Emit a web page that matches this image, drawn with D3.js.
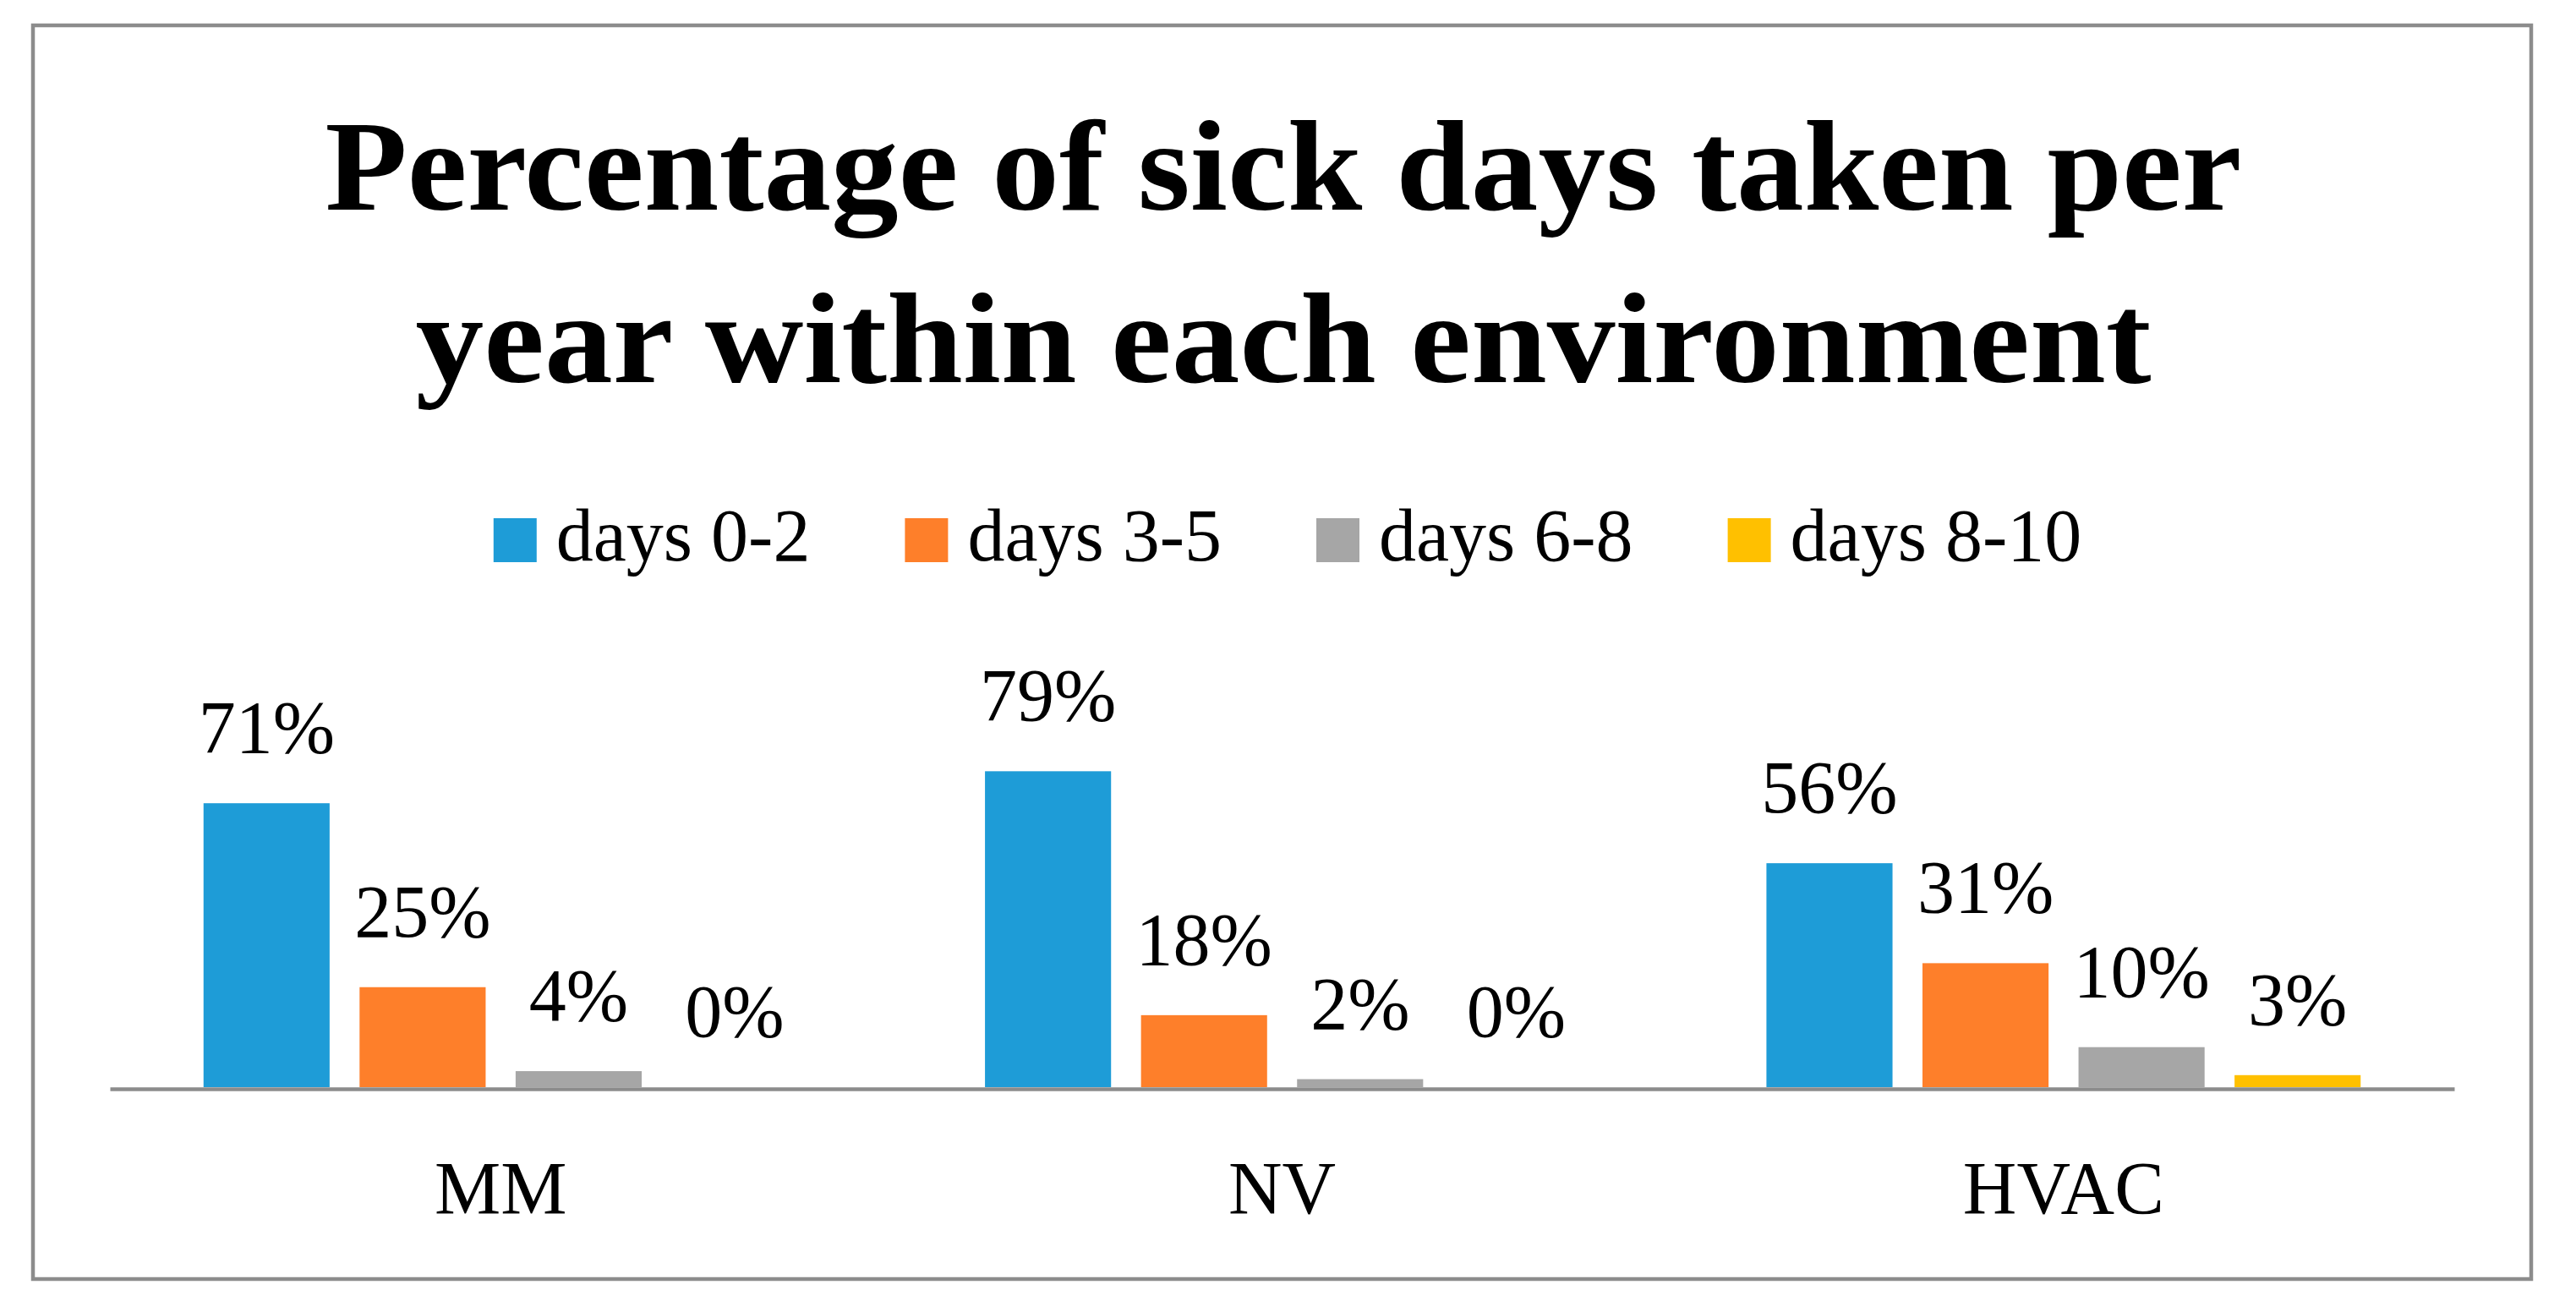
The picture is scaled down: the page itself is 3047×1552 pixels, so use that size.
<!DOCTYPE html>
<html>
<head>
<meta charset="utf-8">
<script src="https://cdn.jsdelivr.net/npm/d3@7"></script>
<style>
    body { margin: 0; background: #fff; }
    text { font-family: "Palatino Linotype", "Book Antiqua", Palatino, "Liberation Serif", serif; fill: #000; }
</style>
</head>
<body>
<svg></svg>
<script>
'use strict';

const WIDTH = 3047;
const HEIGHT = 1552;

// chart data
var environments = ["MM", "NV", "HVAC"];
var dayGroups = ["days 0-2", "days 3-5", "days 6-8", "days 8-10"];
var days0to2 = [71, 79, 56];
var days3to5 = [25, 18, 31];
var days6to8 = [4, 2, 10];
var days8to10 = [0, 0, 3];
var groupColors = ["#1e9cd7", "#fe7f2a", "#a6a6a6", "#ffc000"];
var titleLines = ["Percentage of sick days taken per", "year within each environment"];

var seriesValues = [days0to2, days3to5, days6to8, days8to10];

var svg = d3.select("svg")
    .attr("width", WIDTH)
    .attr("height", HEIGHT);

// outer frame
svg.append("rect")
    .attr("x", 39)
    .attr("y", 30)
    .attr("width", 2955)
    .attr("height", 1483)
    .attr("fill", "#fff")
    .attr("stroke", "#8c8c8c")
    .attr("stroke-width", 4.5);

// title
var titleWidths = [2267, 2053];
svg.selectAll(".title")
    .data(titleLines)
    .enter()
    .append("text")
    .attr("class", "title")
    .attr("x", 1518)
    .attr("y", function (d, i) { return 248 + i * 204; })
    .attr("text-anchor", "middle")
    .attr("font-size", 152)
    .attr("font-weight", "bold")
    .attr("textLength", function (d, i) { return titleWidths[i]; })
    .attr("lengthAdjust", "spacingAndGlyphs")
    .text(function (d) { return d; });

// scales
var x0 = d3.scaleBand()
    .domain(environments)
    .range([130, 2903])
    .padding(0);

var x1 = d3.scaleBand()
    .domain(dayGroups)
    .range([0, x0.bandwidth()])
    .paddingInner(0.192)
    .paddingOuter(0.6);

var y = d3.scaleLinear()
    .domain([0, 90])
    .range([1286, 1286 - 90 * 4.73]);

// bars + labels
var cells = [];
environments.forEach(function (env, i) {
    dayGroups.forEach(function (g, j) {
        cells.push({env: env, group: g, value: seriesValues[j][i], color: groupColors[j]});
    });
});

svg.selectAll(".bar")
    .data(cells)
    .enter()
    .append("rect")
    .attr("class", "bar")
    .attr("x", function (d) { return x0(d.env) + x1(d.group); })
    .attr("y", function (d) { return y(d.value); })
    .attr("width", x1.bandwidth())
    .attr("height", function (d) { return y(0) - y(d.value); })
    .attr("fill", function (d) { return d.color; });

svg.selectAll(".label")
    .data(cells)
    .enter()
    .append("text")
    .attr("class", "label")
    .attr("x", function (d) { return x0(d.env) + x1(d.group) + x1.bandwidth() / 2; })
    .attr("y", function (d) { return y(d.value) - 60; })
    .attr("text-anchor", "middle")
    .attr("font-size", 88)
    .text(function (d) { return d.value + "%"; });

// category axis
var xAxis = svg.append("g")
    .attr("transform", "translate(0," + 1288 + ")")
    .call(d3.axisBottom(x0).tickSize(0).tickPadding(0));

xAxis.select(".domain")
    .attr("stroke", "#8c8c8c")
    .attr("stroke-width", 4.5);

xAxis.selectAll(".tick text")
    .attr("y", 147)
    .attr("dy", 0)
    .attr("font-size", 88)
    .attr("font-family", null)
    .attr("fill", "#000");

xAxis.attr("font-family", null).attr("font-size", null);

// legend
var legend = svg.append("g").attr("class", "legend");
var cursor = 0;
dayGroups.forEach(function (g, j) {
    var item = legend.append("g").attr("transform", "translate(" + cursor + ",0)");
    item.append("rect")
        .attr("x", 0)
        .attr("y", 613)
        .attr("width", 51)
        .attr("height", 52)
        .attr("fill", groupColors[j]);
    var t = item.append("text")
        .attr("x", 74)
        .attr("y", 663)
        .attr("font-size", 88)
        .text(g);
    cursor += 74 + t.node().getComputedTextLength() + 112;
});
var legendWidth = cursor - 112;
legend.attr("transform", "translate(" + (1523 - legendWidth / 2) + ",0)");
</script>
</body>
</html>
